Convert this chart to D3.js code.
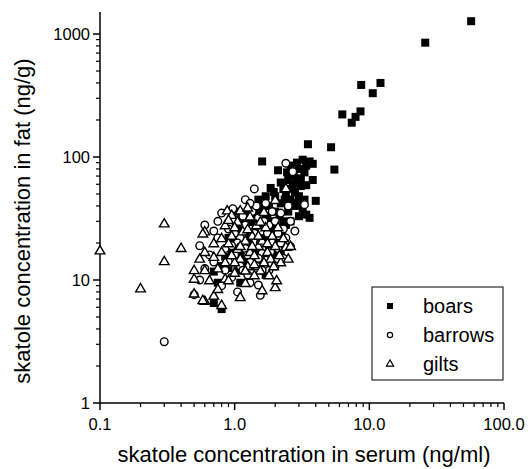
<!DOCTYPE html>
<html>
<head>
<meta charset="utf-8">
<title>Skatole in fat vs serum</title>
<script src="https://cdn.jsdelivr.net/npm/d3@7"></script>
<style>
  body { margin: 0; background: #fff; }
  text { font-family: "Liberation Sans", Arial, Helvetica, sans-serif; fill: #000; }
</style>
</head>
<body>
<script>
// data: [serum ng/ml, fat ng/g]
var boars = [
  [57,1270],[26,850],[8.7,385],[12.1,400],[10.6,330],[6.3,222],[8.6,235],[7.9,212],[7.4,190],
  [3.5,127],[5.2,120],[5.5,79],
  [1.6,92],[2.1,78],[2.9,90],[3.2,95],[3.6,92],[3.8,88],[3.0,80],[3.4,85],[3.3,75],[2.5,65],
  [3.1,67],[3.8,65],[3.4,59],[1.85,56],[2.7,60],[2.3,55],[2.8,52],[3.0,48],[4.0,44],[3.0,33],
  [3.6,32],[3.4,34],[2.6,45],[2.2,42],[2.0,48],[1.8,40],[1.5,45],[1.6,35],[1.9,30],[2.4,28],
  [2.2,17],[1.4,38],[1.3,30],[1.2,25],[1.5,28],[1.7,22],[1.0,20],[1.1,27],[0.95,17],[1.2,15],
  [1.6,14],[1.8,18],[2.0,24],[2.5,36],[1.7,11],[1.1,9.5],[1.05,12],[0.8,13],[0.7,11.7],
  [0.75,9.5],[0.7,6.5],[0.8,5.8],[2.8,40],[3.2,38],[2.4,50],[2.0,36],
  [2.6,85],[2.75,70],[2.45,75],[3.1,58],[2.9,62],[2.55,55],[2.2,62],[1.95,52],[2.35,45],
  [2.7,42],[3.0,42],[2.15,33],[1.75,33],[1.45,33],[1.35,27],[1.55,24],[1.9,26],[2.25,24],
  [1.25,20],[1.45,18],[2.05,20],[1.15,17],[1.35,13],[0.9,12.5],[2.6,30],[3.3,45],
  [1.1,31],[1.25,35],[1.6,40],[1.7,48],[1.3,22],[1.0,25],[0.9,22],[1.4,29],[1.85,22],
  [1.15,14],[1.5,16],[0.85,15.5],[1.95,16],[2.3,30],[1.65,28],[1.05,36]
];
var barrows = [
  [0.3,3.15],[0.5,7.6],[0.6,28],[0.7,25],[0.8,35],[0.97,38],[1.2,45],[1.4,55],[2.4,89],[2.7,76],
  [3.3,41],[2.6,18.7],[1.7,14.5],[1.5,9.1],[1.55,7.5],[2.0,13],[0.6,12.4],[0.65,16],[0.75,22],
  [0.85,18],[0.9,14],[0.9,26],[1.0,30],[1.0,16],[1.1,22],[1.15,33],[1.2,18],[1.3,26],[1.3,14],
  [1.4,20],[1.5,32],[1.6,25],[1.7,42],[1.8,28],[1.9,20],[2.0,30],[2.2,35],[2.3,26],[2.4,22],
  [2.6,30],[2.1,18],[1.25,11],[0.95,10.5],[0.8,9],[0.7,14],[0.55,19],[0.55,10],[1.05,8],
  [1.3,9.5],[1.8,12],[2.3,15],[1.6,16.5],[1.45,13],[1.1,13],[0.85,12],[1.0,24],[1.35,36],
  [1.65,30],[0.75,30],[2.8,25],[1.9,36],
  [1.05,20],[1.2,28],[1.4,24],[1.55,20],[1.75,24],[2.1,24],[1.25,16],[1.5,15],[0.95,19],
  [1.15,12],[1.6,12],[2.2,20],[1.85,17],[1.45,40],[2.5,40],[1.3,42]
];
var gilts = [
  [0.1,17.5],[0.2,8.6],[0.3,14.3],[0.4,18.3],[0.3,29],[0.6,25],[0.6,17],[0.7,15.5],[0.58,24],
  [0.5,12.1],[0.5,10.3],[0.6,12.1],[0.85,10.3],[0.7,7.5],[0.6,6.8],[0.8,6.3],[1.1,7.3],[0.5,7.8],
  [0.58,6.9],[2.4,18.7],[2.6,19],[2.0,8.8],[1.6,8.3],[2.05,10],[0.88,37],[1.1,37],[1.25,39],
  [0.95,34],[2.4,56],[0.9,10],[1.0,11.5],[0.75,12.5],[0.8,17],[0.9,20],[0.95,23],[1.05,18],
  [1.1,15],[1.15,25],[1.2,21],[1.25,13],[1.3,17],[1.35,23],[1.4,16],[1.45,28],[1.5,19],
  [1.55,12],[1.6,21],[1.7,27],[1.75,17],[1.85,15],[1.9,23],[2.0,19],[2.1,27],[2.2,14],[0.7,20],
  [0.65,10],[0.85,28],[1.0,14],[1.2,9.5],[1.4,11],[0.75,8.5],[1.8,11],[2.3,22],[0.55,15],
  [1.05,30],[1.3,33],[2.5,15],[1.65,36],[2.0,45],
  [0.85,14],[0.95,16],[1.1,19],[1.2,12],[1.35,19],[1.5,23],[1.65,14],[1.95,13],[1.0,27],
  [0.8,22],[1.4,13.5],[1.75,20],[2.15,16],[1.55,30],[1.25,26],[0.9,31]
];
var xTicks = [0.1, 1, 10, 100];
var xTickLabels = ["0.1", "1.0", "10.0", "100.0"];
var yTicks = [1, 10, 100, 1000];
var yTickLabels = ["1", "10", "100", "1000"];
var legendNames = ["boars", "barrows", "gilts"];

var width = 530, height = 469;

var x = d3.scaleLog().domain([0.1, 100]).range([100, 504]);
var y = d3.scaleLog().domain([1, Math.pow(10, 391 / 123)]).range([403, 12]);

var svg = d3.select("body").append("svg")
  .attr("width", width)
  .attr("height", height);

// minor ticks: 2..9 within each decade
function minors(lo, hi) {
  var out = [];
  for (var d = lo; d < hi; d *= 10)
    for (var k = 2; k <= 9; k++) if (d * k <= hi) out.push(d * k);
  return out;
}

// x axis
var xg = svg.append("g").attr("transform", "translate(0,403)");
xg.append("line").attr("x1", 100).attr("x2", 504).attr("stroke", "#000").attr("stroke-width", 1.5);
xg.selectAll(".xmin").data(minors(0.1, 100)).enter().append("line")
  .attr("x1", function(d) { return x(d); }).attr("x2", function(d) { return x(d); })
  .attr("y1", 0).attr("y2", 4).attr("stroke", "#000").attr("stroke-width", 1.2);
xg.selectAll(".xmaj").data(xTicks).enter().append("line")
  .attr("x1", function(d) { return x(d); }).attr("x2", function(d) { return x(d); })
  .attr("y1", 0).attr("y2", 7).attr("stroke", "#000").attr("stroke-width", 1.5);
xg.selectAll(".xlab").data(xTicks).enter().append("text")
  .attr("x", function(d) { return x(d); }).attr("y", 27)
  .attr("text-anchor", "middle").attr("font-size", 16.5)
  .text(function(d, i) { return xTickLabels[i]; });

// y axis
var yg = svg.append("g").attr("transform", "translate(100,0)");
yg.append("line").attr("y1", 12).attr("y2", 403).attr("stroke", "#000").attr("stroke-width", 1.5);
yg.selectAll(".ymin").data(minors(1, 1000)).enter().append("line")
  .attr("y1", function(d) { return y(d); }).attr("y2", function(d) { return y(d); })
  .attr("x1", 0).attr("x2", -4).attr("stroke", "#000").attr("stroke-width", 1.2);
yg.selectAll(".ymaj").data(yTicks).enter().append("line")
  .attr("y1", function(d) { return y(d); }).attr("y2", function(d) { return y(d); })
  .attr("x1", 0).attr("x2", -7).attr("stroke", "#000").attr("stroke-width", 1.5);
yg.selectAll(".ylab").data(yTicks).enter().append("text")
  .attr("x", -10).attr("y", function(d) { return y(d) + 6; })
  .attr("text-anchor", "end").attr("font-size", 16.5)
  .text(function(d, i) { return yTickLabels[i]; });

// axis titles
svg.append("text")
  .attr("x", 304).attr("y", 462)
  .attr("text-anchor", "middle").attr("font-size", 22)
  .text("skatole concentration in serum (ng/ml)");
svg.append("text")
  .attr("transform", "translate(30,221) rotate(-90)")
  .attr("text-anchor", "middle").attr("font-size", 22)
  .text("skatole concentration in fat (ng/g)");

// markers
var tri = d3.symbol().type(d3.symbolTriangle).size(40);

svg.selectAll(".boar").data(boars).enter().append("rect")
  .attr("x", function(d) { return x(d[0]) - 4; })
  .attr("y", function(d) { return y(d[1]) - 4; })
  .attr("width", 8).attr("height", 8)
  .attr("fill", "#000");

svg.selectAll(".barrow").data(barrows).enter().append("circle")
  .attr("cx", function(d) { return x(d[0]); })
  .attr("cy", function(d) { return y(d[1]); })
  .attr("r", 3.8)
  .attr("fill", "#fff").attr("stroke", "#000").attr("stroke-width", 1.4);

svg.selectAll(".gilt").data(gilts).enter().append("path")
  .attr("transform", function(d) { return "translate(" + x(d[0]) + "," + (y(d[1]) + 1) + ")"; })
  .attr("d", tri)
  .attr("fill", "#fff").attr("stroke", "#000").attr("stroke-width", 1.4);

// legend
var lg = svg.append("g");
lg.append("rect").attr("x", 372).attr("y", 287).attr("width", 131).attr("height", 93)
  .attr("fill", "#fff").attr("stroke", "#000").attr("stroke-width", 1);
lg.append("rect").attr("x", 387).attr("y", 303).attr("width", 6).attr("height", 6).attr("fill", "#000");
lg.append("circle").attr("cx", 390).attr("cy", 335).attr("r", 2.6)
  .attr("fill", "#fff").attr("stroke", "#000").attr("stroke-width", 1.2);
lg.append("path").attr("transform", "translate(390,364)")
  .attr("d", d3.symbol().type(d3.symbolTriangle).size(22))
  .attr("fill", "#fff").attr("stroke", "#000").attr("stroke-width", 1.2);
lg.selectAll(".ltxt").data(legendNames).enter().append("text")
  .attr("x", 423).attr("y", function(d, i) { return 313 + i * 29; })
  .attr("font-size", 20)
  .text(function(d) { return d; });
</script>
</body>
</html>
